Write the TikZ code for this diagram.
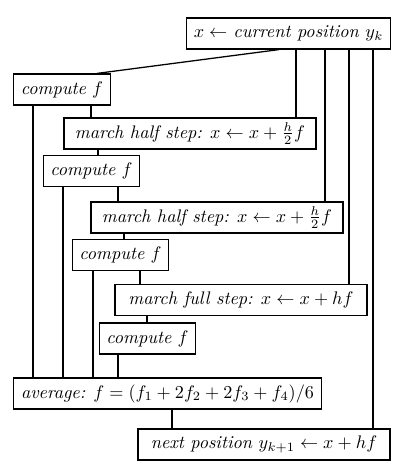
\documentclass[tikz,border=0pt]{standalone}
\usepackage{amsmath}
\usepackage{tikz}
\usetikzlibrary{calc}

\begin{document}
\begin{tikzpicture}[x=0.55pt,y=-0.55pt,line width=0.7pt,
		box/.style={draw,line width=0.7pt,minimum height=17pt,inner xsep=4pt,inner ysep=2pt}]
		\useasboundingbox (0,0) rectangle (400,472);
		\node(pos)   [box, minimum width=111.7pt] at (288.5,33.5) {$x \leftarrow$ \textit{current position} $y_k$};
		\node(comp1) [box, minimum width=52.8pt]  at (62,89.5)    {\textit{compute} $f$};
		\node(half1) [box, minimum width=138.6pt] at (190,133.5)  {\textit{march half step:} $x \leftarrow x + \frac{h}{2} f$};
		\node(comp2) [box, minimum width=52.3pt]  at (91.5,171)   {\textit{compute} $f$};
		\node(half2) [box, minimum width=138.6pt] at (217,217.5)  {\textit{march half step:} $x \leftarrow x + \frac{h}{2} f$};
		\node(comp3) [box, minimum width=52.3pt]  at (120.5,255)  {\textit{compute} $f$};
		\node(full)  [box, minimum width=138.6pt] at (241,300)    {\textit{march full step:} $x \leftarrow x + hf$};
		\node(comp4) [box, minimum width=52.3pt]  at (147.5,338.5) {\textit{compute} $f$};
		\node(avg)   [box, minimum width=166.7pt] at (167.5,393.5) {\textit{average:} $f = (f_1 + 2f_2 + 2f_3 + f_4)/6$};
		\node(next)  [box, minimum width=138.6pt] at (264,444.5)  {\textit{next position} $y_{k+1} \leftarrow x + hf$};
		
		% from the current position
		\draw (pos.south -| 279,0) -- (comp1.north -| 97,0);
		\draw (pos.south -| 296,0) -- (half1.north -| 296,0);
		\draw (pos.south -| 325,0) -- (half2.north -| 325,0);
		\draw (pos.south -| 349,0) -- (full.north -| 349,0);
		\draw (pos.south -| 373,0) -- (next.north -| 373,0);
		
		% steps
		\draw (comp1.south -| 91,0) -- (half1.north -| 91,0);
		\draw (half1.south -| 98,0) -- (comp2.north -| 98,0);
		\draw (comp2.south -| 118,0) -- (half2.north -| 118,0);
		\draw (half2.south -| 124,0) -- (comp3.north -| 124,0);
		\draw (comp3.south -| 140,0) -- (full.north -| 140,0);
		\draw (full.south -| 147,0) -- (comp4.north -| 147,0);
		
		% into the average
		\draw (comp1.south -| 33,0) -- (avg.north -| 33,0);
		\draw (comp2.south -| 63,0) -- (avg.north -| 63,0);
		\draw (comp3.south -| 93,0) -- (avg.north -| 93,0);
		\draw (comp4.south -| 118,0) -- (avg.north -| 118,0);
		\draw (avg.south -| 172,0) -- (next.north -| 172,0);
\end{tikzpicture}
\end{document}
